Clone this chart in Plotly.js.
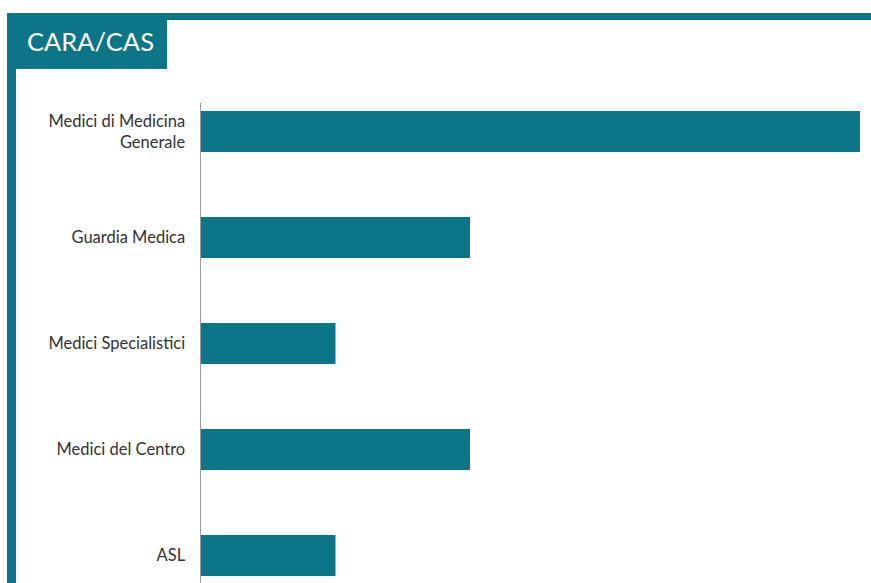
<!DOCTYPE html>
<html>
<head>
<meta charset="utf-8">
<script src="https://cdn.plot.ly/plotly-3.0.1.min.js"></script>
<style>
  html, body { margin: 0; padding: 0; background: #fff; }
  #chart { width: 871px; height: 583px; }
</style>
</head>
<body>
<div id="chart"></div>
<script>
// Data
const categories = [
  "Medici di Medicina<br>Generale",
  "Guardia Medica",
  "Medici Specialistici",
  "Medici del Centro",
  "ASL"
];
const values = [49, 20, 10, 20, 10];
const chartTitle = "CARA/CAS";

// Layout helpers (pixel -> paper)
const W = 871, H = 583;
const mL = 201, mR = 11, mT = 103, mB = 0;
const pw = W - mL - mR, ph = H - mT - mB;
const px = x => (x - mL) / pw;
const py = y => (H - mB - y) / ph;
const teal = "#0c7587";

const trace = {
  type: "bar",
  orientation: "h",
  y: categories,
  x: values,
  marker: { color: teal },
  hoverinfo: "x+y"
};

const layout = {
  width: W,
  height: H,
  margin: { l: mL, r: mR, t: mT, b: mB, pad: 0 },
  paper_bgcolor: "#ffffff",
  plot_bgcolor: "#ffffff",
  showlegend: false,
  bargap: 0.613,
  title: {
    text: chartTitle,
    xref: "container", yref: "container",
    x: 27 / W, xanchor: "left",
    y: 1 - 42 / H, yanchor: "middle",
    font: { family: "Lato, 'Open Sans', sans-serif", size: 25.5, color: "#ffffff" }
  },
  xaxis: {
    range: [0, 49],
    showgrid: false,
    zeroline: false,
    showline: false,
    showticklabels: false,
    ticks: ""
  },
  yaxis: {
    type: "category",
    range: [4.26, -0.27],
    showgrid: false,
    zeroline: false,
    showline: true,
    linecolor: "#9a9a9a",
    linewidth: 1.5,
    ticks: "",
    ticklabelstandoff: 11,
    tickfont: { family: "Lato, 'Open Sans', sans-serif", size: 16.5, color: "#333333" }
  },
  shapes: [
    { type: "rect", xref: "paper", yref: "paper", layer: "above",
      x0: px(7), x1: px(871), y0: py(13), y1: py(20),
      fillcolor: teal, line: { width: 0 } },
    { type: "rect", xref: "paper", yref: "paper", layer: "above",
      x0: px(7), x1: px(16), y0: py(13), y1: py(583),
      fillcolor: teal, line: { width: 0 } },
    { type: "rect", xref: "paper", yref: "paper", layer: "below",
      x0: px(7), x1: px(167), y0: py(13), y1: py(69),
      fillcolor: teal, line: { width: 0 } }
  ]
};

Plotly.newPlot("chart", [trace], layout, { displayModeBar: false, staticPlot: true });
</script>
</body>
</html>
